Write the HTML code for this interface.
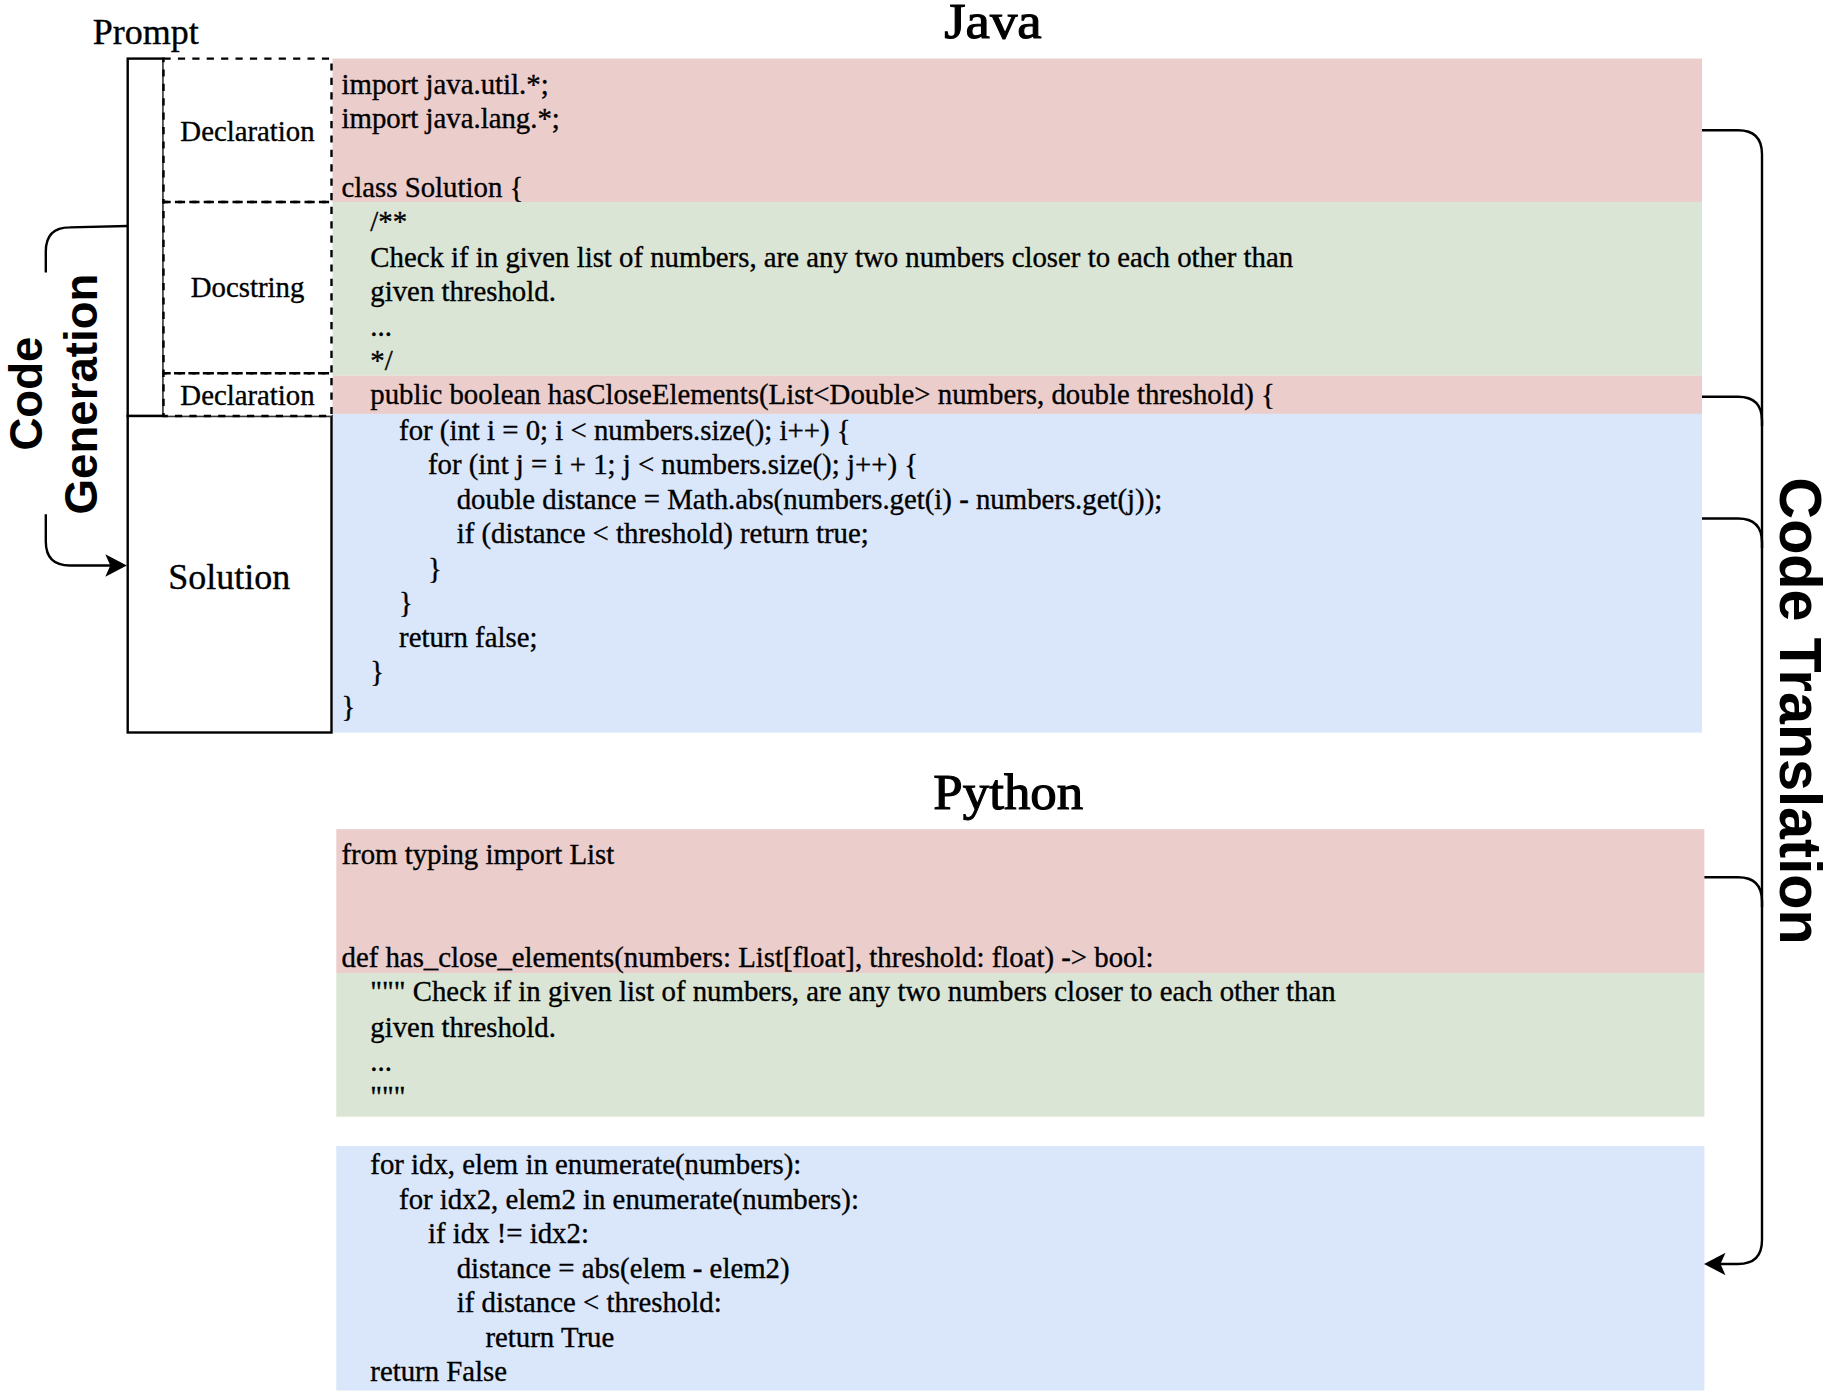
<!DOCTYPE html>
<html><head><meta charset="utf-8">
<style>
html,body{margin:0;padding:0;background:#fff;}
body{width:1830px;height:1396px;overflow:hidden;position:relative;}
svg{position:absolute;left:0;top:0;}
.c{font-family:"Liberation Serif",serif;font-size:28.8px;fill:#000;stroke:#000;stroke-width:0.35px;}
.lbl{font-family:"Liberation Serif",serif;fill:#000;stroke:#000;stroke-width:0.35px;}
.sb{font-family:"Liberation Sans",sans-serif;font-weight:bold;fill:#000;}
</style></head>
<body>
<svg width="1830" height="1396" viewBox="0 0 1830 1396">
<!-- Java blocks -->
<rect x="332.5" y="58.5" width="1369.5" height="143.5" fill="#ebcdcc"/>
<rect x="332.5" y="202" width="1369.5" height="173.7" fill="#dae5d5"/>
<rect x="332.5" y="375.7" width="1369.5" height="38.2" fill="#ebcdcc"/>
<rect x="332.5" y="413.9" width="1369.5" height="318.7" fill="#dae6fa"/>
<!-- Python blocks -->
<rect x="336.3" y="829.2" width="1368.1" height="143.8" fill="#ebcdcc"/>
<rect x="336.3" y="973" width="1368.1" height="143.7" fill="#dae5d5"/>
<rect x="336.3" y="1146" width="1368.1" height="244.5" fill="#dae6fa"/>

<!-- prompt / solution boxes -->
<g fill="none" stroke="#000" stroke-width="2.4">
<rect x="127.7" y="58.6" width="35.8" height="357.4" fill="#fff"/>
<rect x="127.7" y="416" width="203.8" height="316.5" fill="#fff"/>
</g>
<rect x="163.5" y="58.6" width="168" height="357.4" fill="#fff"/>
<g stroke="#666" stroke-width="1" fill="none">
<line x1="163.4" y1="58.6" x2="163.4" y2="416"/>
<line x1="163.5" y1="416" x2="331.5" y2="416"/>
</g>
<g fill="none" stroke="#000" stroke-width="2.4" stroke-dasharray="7.2 7.2">
<rect x="163.5" y="58.6" width="168" height="143.4"/>
<rect x="163.5" y="202" width="168" height="171.3"/>
<rect x="163.5" y="373.3" width="168" height="42.7"/>
</g>

<!-- left edge: code generation -->
<g fill="none" stroke="#000" stroke-width="2.4">
<path d="M127.7,226 L69.8,227.4 Q45.8,227.4 45.8,251.4 L45.8,272.6"/>
<path d="M45.8,514.2 L45.8,541.5 Q45.8,565.5 69.8,565.5 L111,565.5"/>
</g>
<path d="M126.8,565.5 L105.3,554.3 L110.3,565.5 L105.3,576.7 Z" fill="#000"/>

<!-- right edges: code translation -->
<g fill="none" stroke="#000" stroke-width="2.4">
<path d="M1702,130.3 L1738,130.3 Q1762,130.3 1762,154.3 L1762,1240 Q1762,1264 1738,1264 L1720,1264"/>
<path d="M1702,396.8 L1738,396.8 Q1762,396.8 1762,420.8 L1762,426"/>
<path d="M1702,518.5 L1738,518.5 Q1762,518.5 1762,542.5 L1762,548"/>
<path d="M1704.4,877.2 L1738,877.2 Q1762,877.2 1762,901.2 L1762,907"/>
</g>
<path d="M1704,1264 L1725.5,1252.8 L1720.5,1264 L1725.5,1275.2 Z" fill="#000"/>

<!-- titles -->
<text class="lbl" x="944.2" y="38.3" font-size="50.5" style="stroke-width:1.1px" textLength="97.5" lengthAdjust="spacingAndGlyphs">Java</text>
<text class="lbl" x="933.3" y="808.7" font-size="50.5" style="stroke-width:1.1px" textLength="150" lengthAdjust="spacingAndGlyphs">Python</text>
<text class="lbl" x="92.8" y="43.7" font-size="36">Prompt</text>
<text class="lbl" x="247.5" y="140.8" font-size="28.8" text-anchor="middle">Declaration</text>
<text class="lbl" x="247.5" y="296.7" font-size="28.8" text-anchor="middle">Docstring</text>
<text class="lbl" x="247.5" y="404.7" font-size="28.8" text-anchor="middle">Declaration</text>
<text class="lbl" x="229.3" y="589" font-size="36" text-anchor="middle">Solution</text>

<text class="sb" font-size="46.8" textLength="114" lengthAdjust="spacingAndGlyphs" transform="translate(41.6,450.6) rotate(-90)">Code</text>
<text class="sb" font-size="46.8" textLength="241" lengthAdjust="spacingAndGlyphs" transform="translate(96.8,514.5) rotate(-90)">Generation</text>
<text class="sb" font-size="60" textLength="467" lengthAdjust="spacingAndGlyphs" transform="translate(1779.9,477.6) rotate(90)">Code Translation</text>

<!-- Java code -->
<g class="c" xml:space="preserve">
<text x="341.5" y="93.8">import java.util.*;</text>
<text x="341.5" y="128.4">import java.lang.*;</text>
<text x="341.5" y="197.1">class Solution {</text>
<text x="370.3" y="231.4">/**</text>
<text x="370.3" y="266.6">Check if in given list of numbers, are any two numbers closer to each other than</text>
<text x="370.3" y="301.2">given threshold.</text>
<text x="370.3" y="335.7">...</text>
<text x="370.3" y="370.3">*/</text>
<text x="370.3" y="404.4">public boolean hasCloseElements(List&lt;Double&gt; numbers, double threshold) {</text>
<text x="399.1" y="440">for (int i = 0; i &lt; numbers.size(); i++) {</text>
<text x="427.9" y="474">for (int j = i + 1; j &lt; numbers.size(); j++) {</text>
<text x="456.7" y="508.5">double distance = Math.abs(numbers.get(i) - numbers.get(j));</text>
<text x="456.7" y="543.1">if (distance &lt; threshold) return true;</text>
<text x="427.9" y="577.6">}</text>
<text x="399.1" y="612.2">}</text>
<text x="399.1" y="646.8">return false;</text>
<text x="370.3" y="681.3">}</text>
<text x="341.5" y="715.9">}</text>
</g>

<!-- Python code -->
<g class="c" xml:space="preserve">
<text x="341.5" y="864">from typing import List</text>
<text x="341.5" y="967.4">def has_close_elements(numbers: List[float], threshold: float) -&gt; bool:</text>
<text x="370.3" y="1001">""" Check if in given list of numbers, are any two numbers closer to each other than</text>
<text x="370.3" y="1037">given threshold.</text>
<text x="370.3" y="1070.8">...</text>
<text x="370.3" y="1106.3">"""</text>
<text x="370.3" y="1174.2">for idx, elem in enumerate(numbers):</text>
<text x="399.1" y="1208.7">for idx2, elem2 in enumerate(numbers):</text>
<text x="427.9" y="1243.1">if idx != idx2:</text>
<text x="456.7" y="1277.6">distance = abs(elem - elem2)</text>
<text x="456.7" y="1312.1">if distance &lt; threshold:</text>
<text x="485.5" y="1346.6">return True</text>
<text x="370.3" y="1381">return False</text>
</g>
</svg>
</body></html>
